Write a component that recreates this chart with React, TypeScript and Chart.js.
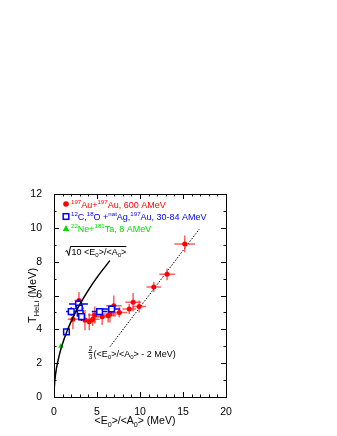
import React, { useEffect, useRef } from "react";
import { Chart, registerables } from "chart.js";
Chart.register(...registerables);

// 197Au+197Au, 600 AMeV (red)
const redX = [2.2, 2.9, 3.6, 4.1, 4.5, 4.75, 5.6, 6.3, 6.5, 6.95, 7.6, 8.75, 9.2, 9.9, 11.6, 13.15, 15.2];
const redY = [4.6, 5.7, 4.55, 4.45, 4.6, 4.85, 4.75, 4.8, 4.9, 5.4, 5.0, 5.2, 5.6, 5.35, 6.5, 7.25, 9.05];
const redErrX = [0.6, 0.5, 0.8, 0.7, 0.8, 0.8, 0.9, 0.9, 0.8, 0.9, 0.9, 0.8, 0.9, 0.8, 0.85, 0.9, 1.2];
const redErrY = [0.6, 0.5, 0.6, 0.5, 0.4, 0.5, 0.5, 0.4, 0.5, 0.6, 0.3, 0.3, 0.55, 0.35, 0.3, 0.35, 0.5];

// 12C,18O + natAg,197Au, 30-84 AMeV (blue)
const blueX = [1.45, 2.0, 2.85, 2.95, 3.05, 3.2, 5.3, 6.7];
const blueY = [3.85, 5.05, 5.5, 5.25, 4.95, 4.75, 5.05, 5.2];
const blueErrX = [0.3, 0.6, 1.1, 0.5, 0.4, 0.4, 0.9, 1.0];
const blueErrY = [0.2, 0.25, 0.3, 0.3, 0.3, 0.25, 0.2, 0.2];

// 22Ne+181Ta, 8 AMeV (green)
const greenX = [0.8];
const greenY = [3.0];

// sqrt(10 <E0>/<A0>) curve
const sqrtX = [0.025, 0.1, 0.3, 0.6, 1, 1.5, 2, 2.5, 3, 4, 5, 6.5];
const sqrtY = [0.5, 1.0, 1.73, 2.45, 3.16, 3.87, 4.47, 5.0, 5.48, 6.32, 7.07, 8.06];

// 2/3 (<E0>/<A0> - 2 MeV) line
const linX = [6.5, 16.9];
const linY = [2.97, 9.93];

const xTicks = [0, 5, 10, 15, 20];
const yTicks = [0, 2, 4, 6, 8, 10, 12];

const FONT = '"Liberation Sans", Arial, Helvetica, sans-serif';

type Seg = { t: string; k?: "sub" | "sup" };

function richWidth(ctx: CanvasRenderingContext2D, segs: Seg[], size: number) {
  let w = 0;
  for (const s of segs) {
    const fs = s.k ? size * 0.68 : size;
    ctx.font = `${fs}px ${FONT}`;
    w += ctx.measureText(s.t).width;
  }
  return w;
}

function drawRich(ctx: CanvasRenderingContext2D, segs: Seg[], x: number, y: number, size: number, color: string) {
  let cx = x;
  ctx.fillStyle = color;
  ctx.textAlign = "left";
  ctx.textBaseline = "alphabetic";
  for (const s of segs) {
    const fs = s.k ? size * 0.68 : size;
    ctx.font = `${fs}px ${FONT}`;
    const dy = s.k === "sup" ? -size * 0.42 : s.k === "sub" ? size * 0.28 : 0;
    ctx.fillText(s.t, cx, y + dy);
    cx += ctx.measureText(s.t).width;
  }
  return cx - x;
}

const errorBars = {
  id: "errorBars",
  beforeDatasetDraw(chart: any, args: any) {
    const ds: any = chart.data.datasets[args.index];
    if (!ds.errX) return;
    const ctx = chart.ctx as CanvasRenderingContext2D;
    const xs = chart.scales.x;
    const ys = chart.scales.y;
    ctx.save();
    ctx.strokeStyle = ds.errColor;
    ctx.lineWidth = ds.errWidth;
    ds.data.forEach((p: any, i: number) => {
      const px = xs.getPixelForValue(p.x);
      const py = ys.getPixelForValue(p.y);
      ctx.beginPath();
      ctx.moveTo(xs.getPixelForValue(p.x - ds.errX[i]), py);
      ctx.lineTo(xs.getPixelForValue(p.x + ds.errX[i]), py);
      ctx.moveTo(px, ys.getPixelForValue(p.y - ds.errY[i]));
      ctx.lineTo(px, ys.getPixelForValue(p.y + ds.errY[i]));
      ctx.stroke();
    });
    ctx.restore();
  },
};

const frameAndText = {
  id: "frameAndText",
  afterDraw(chart: any) {
    const ctx = chart.ctx as CanvasRenderingContext2D;
    const { left, right, top, bottom } = chart.chartArea;
    const xs = chart.scales.x;
    const ys = chart.scales.y;
    ctx.save();
    ctx.strokeStyle = "#000";
    ctx.lineWidth = 1;
    ctx.strokeRect(Math.round(left) + 0.5, Math.round(top) + 0.5, Math.round(right - left), Math.round(bottom - top));
    // ticks on all sides, inward
    ctx.beginPath();
    for (let v = 0; v <= 20; v += 1) {
      const px = Math.round(xs.getPixelForValue(v)) + 0.5;
      const len = v % 5 === 0 ? 5 : 2.5;
      ctx.moveTo(px, bottom);
      ctx.lineTo(px, bottom - len);
      ctx.moveTo(px, top);
      ctx.lineTo(px, top + len);
    }
    for (let v = 0; v <= 12; v += 1) {
      const py = Math.round(ys.getPixelForValue(v)) + 0.5;
      const len = v % 2 === 0 ? 5 : 2.5;
      ctx.moveTo(left, py);
      ctx.lineTo(left + len, py);
      ctx.moveTo(right, py);
      ctx.lineTo(right - len, py);
    }
    ctx.stroke();

    // x axis title
    const xt: Seg[] = [{ t: "<E" }, { t: "0", k: "sub" }, { t: ">/<A" }, { t: "0", k: "sub" }, { t: "> (MeV)" }];
    const xw = richWidth(ctx, xt, 10.5);
    drawRich(ctx, xt, 135 - xw / 2, 424, 10.5, "#000");

    // y axis title
    const yt: Seg[] = [{ t: "T" }, { t: "HeLi", k: "sub" }, { t: " (MeV)" }];
    ctx.save();
    ctx.translate(31.5, 295.5);
    ctx.rotate(-Math.PI / 2);
    const yw = richWidth(ctx, yt, 11);
    drawRich(ctx, yt, -yw / 2, 4, 11, "#000");
    ctx.restore();

    // legend
    const lx = 66;
    ctx.fillStyle = "#ff0000";
    ctx.beginPath();
    ctx.arc(lx, 204, 2.8, 0, Math.PI * 2);
    ctx.fill();
    ctx.strokeStyle = "#0000ff";
    ctx.lineWidth = 1.5;
    ctx.fillStyle = "#fff";
    ctx.fillRect(lx - 2.8, 216.5 - 2.8, 5.6, 5.6);
    ctx.strokeRect(lx - 2.8, 216.5 - 2.8, 5.6, 5.6);
    ctx.fillStyle = "#00e000";
    ctx.beginPath();
    ctx.moveTo(lx, 225);
    ctx.lineTo(lx + 3.3, 231);
    ctx.lineTo(lx - 3.3, 231);
    ctx.closePath();
    ctx.fill();

    drawRich(ctx, [{ t: "197", k: "sup" }, { t: "Au+" }, { t: "197", k: "sup" }, { t: "Au, 600 AMeV" }], 71, 207.5, 9, "#ff0000");
    drawRich(ctx, [{ t: "12", k: "sup" }, { t: "C," }, { t: "18", k: "sup" }, { t: "O +" }, { t: "nat", k: "sup" }, { t: "Ag," }, { t: "197", k: "sup" }, { t: "Au, 30-84 AMeV" }], 71, 219.5, 9, "#0000ff");
    drawRich(ctx, [{ t: "22", k: "sup" }, { t: "Ne+" }, { t: "181", k: "sup" }, { t: "Ta, 8 AMeV" }], 71, 231.5, 9, "#00e000");

    // sqrt annotation
    const st: Seg[] = [{ t: "10 <E" }, { t: "0", k: "sub" }, { t: ">/<A" }, { t: "0", k: "sub" }, { t: ">" }];
    const sw = drawRich(ctx, st, 71.5, 254.5, 9, "#000");
    ctx.strokeStyle = "#000";
    ctx.lineWidth = 1;
    ctx.beginPath();
    ctx.moveTo(65.5, 251.5);
    ctx.lineTo(67, 250.5);
    ctx.lineTo(68.8, 255.5);
    ctx.lineTo(70.5, 246.5);
    ctx.lineTo(71.5 + sw, 246.5);
    ctx.stroke();

    // 2/3 annotation
    ctx.font = `6.5px ${FONT}`;
    ctx.fillStyle = "#000";
    ctx.textAlign = "center";
    ctx.fillText("2", 90.5, 351);
    ctx.fillText("3", 90.5, 358.5);
    ctx.beginPath();
    ctx.moveTo(88.5, 352.5);
    ctx.lineTo(92.5, 352.5);
    ctx.stroke();
    drawRich(ctx, [{ t: "(<E" }, { t: "0", k: "sub" }, { t: ">/<A" }, { t: "0", k: "sub" }, { t: "> - 2 MeV)" }], 93.5, 356.5, 9, "#000");
    ctx.restore();
  },
};

export default function App() {
  const ref = useRef<HTMLCanvasElement | null>(null);
  useEffect(() => {
    if (!ref.current) return;
    const pts = (xs: number[], ys: number[]) => xs.map((x, i) => ({ x, y: ys[i] }));
    const chart = new Chart(ref.current, {
      type: "scatter",
      data: {
        datasets: [
          {
            label: "sqrt",
            data: pts(sqrtX, sqrtY),
            showLine: true,
            borderColor: "#000",
            borderWidth: 1.5,
            pointRadius: 0,
            cubicInterpolationMode: "monotone",
            order: 0,
          } as any,
          {
            label: "12C,18O",
            data: pts(blueX, blueY),
            pointStyle: "rect",
            pointRadius: 4,
            borderColor: "#0000ff",
            backgroundColor: "#ffffff",
            borderWidth: 1.5,
            errX: blueErrX,
            errY: blueErrY,
            errColor: "#0000ff",
            errWidth: 1.5,
            order: 1,
          } as any,
          {
            label: "22Ne",
            data: pts(greenX, greenY),
            pointStyle: "triangle",
            pointRadius: 3.2,
            borderColor: "#00e000",
            backgroundColor: "#00e000",
            borderWidth: 0,
            order: 1,
          } as any,
          {
            label: "197Au",
            data: pts(redX, redY),
            pointStyle: "circle",
            pointRadius: 2.5,
            borderColor: "#ff0000",
            backgroundColor: "#ff0000",
            borderWidth: 0,
            errX: redErrX,
            errY: redErrY,
            errColor: "rgba(255,40,40,0.75)",
            errWidth: 1.5,
            order: 2,
          } as any,
          {
            label: "linear",
            data: pts(linX, linY),
            showLine: true,
            borderColor: "#000",
            borderWidth: 1,
            borderDash: [1.5, 1.5],
            pointRadius: 0,
            order: 3,
          } as any,
        ],
      },
      options: {
        animation: false,
        responsive: false,
        devicePixelRatio: 1,
        layout: { padding: { left: 0, top: 194, right: 111, bottom: 19 } },
        plugins: { legend: { display: false }, tooltip: { enabled: false } },
        events: [],
        scales: {
          x: {
            type: "linear",
            min: 0,
            max: 20,
            afterFit: (s: any) => { s.height = 20; },
            afterBuildTicks: (s: any) => { s.ticks = xTicks.map((v) => ({ value: v })); },
            grid: { display: false },
            border: { display: false },
            ticks: { color: "#000", padding: 1, font: { family: FONT, size: 10.5 }, maxRotation: 0 },
          },
          y: {
            type: "linear",
            min: 0,
            max: 12,
            afterFit: (s: any) => { s.width = 54; },
            afterBuildTicks: (s: any) => { s.ticks = yTicks.map((v) => ({ value: v })); },
            grid: { display: false },
            border: { display: false },
            ticks: { color: "#000", padding: 4, font: { family: FONT, size: 10.5 } },
          },
        },
      },
      plugins: [errorBars, frameAndText],
    });
    return () => chart.destroy();
  }, []);
  return (
    <div style={{ position: "fixed", left: 0, top: 0, width: 337, height: 436, background: "#fff" }}>
      <canvas ref={ref} width={337} height={436} style={{ display: "block" }} />
    </div>
  );
}
